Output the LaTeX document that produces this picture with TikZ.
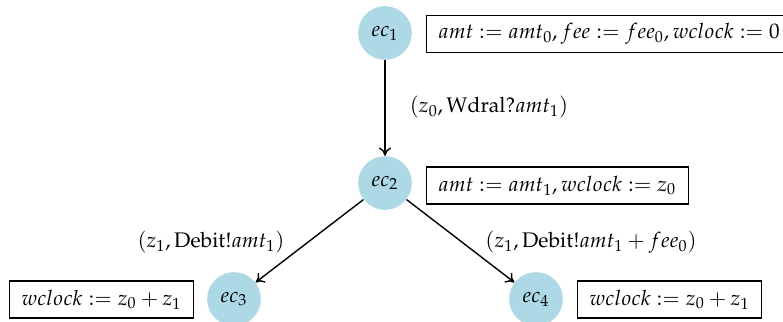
\documentclass[tikz,border=0pt]{standalone}
\usepackage[T1]{fontenc}
\usepackage{mathpazo}
\usetikzlibrary{arrows.meta}
\definecolor{lightblue}{RGB}{173,216,230}
\begin{document}
\begin{tikzpicture}[x=0.54pt,y=-0.54pt,
  every node/.style={font=\fontsize{11.4}{14}\selectfont},
  state/.style={circle, fill=lightblue, minimum size=29pt, inner sep=0pt},
  asgn/.style={draw, rectangle, minimum height=20pt, inner xsep=6.5pt, inner ysep=0pt, line width=0.65pt},
  lbl/.style={inner sep=0pt},
  edge/.style={-{To[length=4.5pt,width=6.5pt]}, line width=0.75pt}]
\useasboundingbox (0,0) rectangle (783,322);
\node[state] (ec1) at (385,33) {$ec_1$};
\node[state] (ec2) at (385,183) {$ec_2$};
\node[state] (ec3) at (234,299) {$ec_3$};
\node[state] (ec4) at (536,299) {$ec_4$};
\node[asgn, anchor=west] (a1) at (426,34) {$amt := amt_0, fee := fee_0, wclock := 0$};
\node[asgn, anchor=west] (a2) at (426,185.5) {$amt := amt_1, wclock := z_0$};
\node[asgn, anchor=east] (a3) at (194,299.5) {$wclock := z_0 + z_1$};
\node[asgn, anchor=west] (a4) at (577,299.5) {$wclock := z_0 + z_1$};
\draw[edge] (ec1) -- (ec2);
\draw[edge] (ec2) -- (ec3);
\draw[edge] (ec2) -- (ec4);
\node[lbl] (l1) at (489,107) {$(z_0, \mathrm{Wdral?}amt_1)$};
\node[lbl] (l2) at (211,242) {$(z_1, \mathrm{Debit!}amt_1)$};
\node[lbl] (l3) at (591,242) {$(z_1, \mathrm{Debit!}amt_1 + fee_0)$};
\end{tikzpicture}
\end{document}
